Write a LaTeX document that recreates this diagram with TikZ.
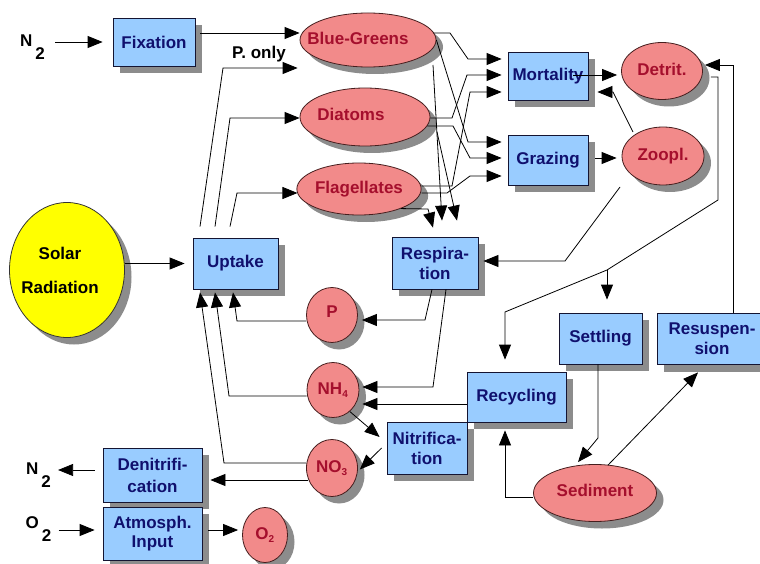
\documentclass[tikz,border=0pt]{standalone}
\usepackage{fontspec}
\setmainfont{Liberation Sans}
\usetikzlibrary{arrows.meta,shadows,calc,shapes.geometric}
\definecolor{boxfill}{RGB}{153,204,255}
\definecolor{boxdraw}{RGB}{20,20,50}
\definecolor{boxtext}{RGB}{16,16,110}
\definecolor{ellfill}{RGB}{242,138,138}
\definecolor{elltext}{RGB}{165,15,45}
\definecolor{elldraw}{RGB}{70,30,30}
\definecolor{sunfill}{RGB}{255,255,0}
\newcommand\fsz{\fontsize{17}{21}\selectfont}
\begin{document}
\begin{tikzpicture}[x=1pt,y=-1pt,
  shad/.style={drop shadow={shadow xshift=7pt,shadow yshift=-7pt,fill=black!45,opacity=1}},
  box/.style={rectangle,draw=boxdraw,fill=boxfill,line width=0.8pt,text=boxtext,
    font=\fsz\bfseries,align=center,inner sep=0pt,shad},
  ell/.style={ellipse,draw=elldraw,fill=ellfill,line width=0.8pt,text=elltext,
    font=\fsz\bfseries,align=center,inner sep=0pt,shad},
  lbl/.style={font=\fsz\bfseries,inner sep=0pt,text=black},
  arr/.style={draw=black,line width=0.8pt,-{Triangle[length=15pt,width=12pt]}}]
\fill[white] (0,0) rectangle (760,564);
\useasboundingbox (0,0) rectangle (760,564);

% boxes
\node[box,minimum width=82pt,minimum height=48pt] (fix) at (154,42) {Fixation};
\node[box,minimum width=80pt,minimum height=48pt] (mort) at (548,76) {Mortality};
\node[box,minimum width=80pt,minimum height=50pt] (graz) at (548,160) {Grazing};
\node[box,minimum width=85pt,minimum height=51pt] (upt) at (235.5,263.5) {Uptake};
\node[box,minimum width=86pt,minimum height=52pt] (resp) at (435,263) {Respira-\\[-1pt]tion};
\node[box,minimum width=80pt,minimum height=52pt] (nit) at (427,448) {Nitrifica-\\[-1pt]tion};
\node[box,minimum width=99pt,minimum height=50pt] (rec) at (516.5,397) {Recycling};
\node[box,minimum width=83pt,minimum height=51pt] (set) at (600.5,338.5) {Settling};
\node[box,minimum width=110pt,minimum height=51pt] (res) at (712,339) {Resuspen-\\[-1pt]sion};
\node[box,minimum width=99pt,minimum height=54pt] (den) at (152.5,475) {Denitrifi-\\[1pt]cation};
\node[box,minimum width=99pt,minimum height=53pt] (atm) at (152.5,533.5) {Atmosph.\\[-2pt]Input};

% ellipses
\node[ell,minimum width=136pt,minimum height=54pt] (bg) at (368,40) {\hspace*{-20pt}\raisebox{3pt}{Blue-Greens}};
\node[ell,minimum width=130pt,minimum height=58pt] (dia) at (365,117) {\hspace*{-28pt}\raisebox{5pt}{Diatoms}};
\node[ell,minimum width=122pt,minimum height=52pt] (fla) at (359,189) {Flagellates};
\node[ell,minimum width=81pt,minimum height=57pt] (det) at (662,71) {\raisebox{4pt}{Detrit.}};
\node[ell,minimum width=82pt,minimum height=58pt] (zoo) at (663,156) {\raisebox{4pt}{Zoopl.}};
\node[ell,minimum width=51pt,minimum height=55pt] (P) at (332,315) {\raisebox{7pt}{P}};
\node[ell,minimum width=52pt,minimum height=55pt] (nh4) at (333,390) {NH$_{\mbox{\fontsize{10}{10}\selectfont 4}}$};
\node[ell,minimum width=51pt,minimum height=57pt] (no3) at (332,468) {NO$_{\mbox{\fontsize{10}{10}\selectfont 3}}$};
\node[ell,minimum width=123pt,minimum height=57pt] (sed) at (595,493) {\raisebox{6pt}{Sediment}};
\node[ell,minimum width=45pt,minimum height=55pt] (o2c) at (265,535) {\raisebox{3pt}{O$_{\mbox{\fontsize{10}{10}\selectfont 2}}$}};
\node[ellipse,draw=black!80,fill=sunfill,line width=0.8pt,text=black,font=\fsz\bfseries,
  align=center,inner sep=0pt,shad,minimum width=115pt,minimum height=135pt] (sol) at (67,270)
  {\hspace*{-14pt}\raisebox{3pt}{Solar}\\[10pt]\hspace*{-14pt}Radiation};

% outside labels
\node[lbl] (n2a) at (32.5,47) {N\kern3pt\raisebox{-13pt}{2}};
\node[lbl] (n2b) at (38.5,475) {N\kern3pt\raisebox{-13pt}{2}};
\node[lbl] (o2b) at (38.5,529) {O\kern3pt\raisebox{-13pt}{2}};
\node[lbl] (ponly) at (259,54) {P. only};

% N2, fixation
\draw[arr,shorten <=10pt,shorten >=10pt] (n2a.east |- fix.west) -- (fix.west);
\draw[arr,shorten <=5pt] ($(fix.east)+(0,-9)$) -- ($(bg.west)+(0,-7)$);

% uptake to phytoplankton
\draw[arr] ($(upt.north)+(-35.5,-11)$) -- (223,68) -- ($(bg.west)+(-2,28)$);
\draw[arr] ($(upt.north)+(-20.5,-11)$) -- (230,118) -- ($(dia.west)+(0,1)$);
\draw[arr] ($(upt.north)+(-5.5,-11)$) -- (237,193) -- ($(fla.west)+(1,4)$);
\draw[arr,shorten >=8pt] (sol.east |- upt.west) -- (upt.west);

% nutrients to uptake
\draw[arr] ($(P.west)+(0,6)$) -- (237,321) -- ($(upt.south)+(-2.5,3)$);
\draw[arr] ($(nh4.west)+(0,6)$) -- (229,396) -- ($(upt.south)+(-20.5,3)$);
\draw[arr] ($(no3.west)+(0,-5)$) -- (224,463) -- ($(upt.south)+(-35.5,3)$);
\draw[arr,shorten >=8pt] ($(no3.west)+(2,12)$) -- ($(den.east)+(0,5)$);
\draw[arr,shorten <=8pt,shorten >=7pt] ($(den.west)+(0,-5)$) -- ($(n2b.east)+(0,-5)$);
\draw[arr,shorten <=7pt,shorten >=8pt] ($(o2b.east)+(0,1)$) -- ($(atm.west)+(0,-3.5)$);
\draw[arr,shorten <=6pt,shorten >=4pt] ($(atm.east)+(0,-3.5)$) -- ($(o2c.west)+(0,-5)$);

% respiration, recycling, nitrification
\draw[arr,shorten >=4pt] ($(resp.south)+(-3,0)$) -- (425,320) -- ($(P.east)+(0,5)$);
\draw[arr,shorten >=3pt] ($(resp.south)+(11,0)$) -- (433,387) -- ($(nh4.east)+(0,-3)$);
\draw[arr,shorten >=3pt] ($(rec.west)+(0,7)$) -- ($(nh4.east)+(0,14)$);
\draw[arr] (nh4.-52) -- ($(nit.west)+(-7,-11)$);
\draw[arr,shorten >=3pt] ($(nit.west)+(-5,0)$) -- (no3.-8);

% sediment cycle
\draw[arr] ($(sed.west)+(0,4)$) -- (505,497) -- ($(rec.south)+(-11.5,8)$);
\draw[arr] ($(set.south)+(-2.5,0)$) -- (598,438) -- ($(sed.north)+(-17,-2)$);
\draw[arr] ($(sed.north)+(13,1)$) -- ($(res.south)+(-14,7.5)$);
\draw[arr] ($(res.north)+(21,0)$) -- (733,65) -- ($(det.east)+(2,-6)$);

% detritus
\coordinate (jn) at (607,270);
\draw[arr] ($(det.east)+(8,6)$) -- (718,77) -- (718,200) -- (jn) -- (505,312) -- ($(rec.north)+(-11.5,-12)$);
\draw[arr] (jn) -- ($(set.north)+(6.5,-13)$);

% zooplankton
\draw[arr,shorten >=5pt] ($(zoo.center)+(-43,31)$) -- (565,261) -- ($(resp.east)+(0,-2)$);
\draw[arr] ($(zoo.center)+(-30,-24)$) -- (613,92) -- ($(mort.east)+(9,16)$);
\draw[arr] ($(mort.east)+(-15,-1)$) -- ($(det.west)+(-4,4)$);
\draw[arr] ($(graz.east)+(7,-2)$) -- ($(zoo.west)+(-5,2)$);

% phytoplankton to mortality, grazing, respiration
\draw[arr] ($(bg.east)+(-3,-7)$) -- (450,33) -- (468,59) -- ($(mort.west)+(-6,-17)$);
\draw[arr] ($(dia.east)+(0,1)$) -- (452,118) -- (467,75) -- ($(mort.west)+(-6,-1)$);
\draw[arr] ($(fla.east)+(0,-3)$) -- (452,186) -- (470,92) -- ($(mort.west)+(-6,16)$);
\draw[arr] (bg.east) -- (468,142) -- ($(graz.west)+(-6,-18)$);
\draw[arr] ($(dia.east)+(-3,9)$) -- (453,126) -- (470,158) -- ($(graz.west)+(-6,-2)$);
\draw[arr] ($(fla.east)+(0,4)$) -- (447,193) -- (470,176) -- ($(graz.west)+(-6,16)$);
\draw[arr] (fla.-25) -- (428,209) -- ($(resp.north)+(-2,-9)$);
\draw[arr] ($(bg.center)+(65,25)$) -- ($(resp.north)+(7,-16)$);
\draw[arr] ($(dia.center)+(72,15)$) -- ($(resp.north)+(22,-16)$);
\end{tikzpicture}
\end{document}
